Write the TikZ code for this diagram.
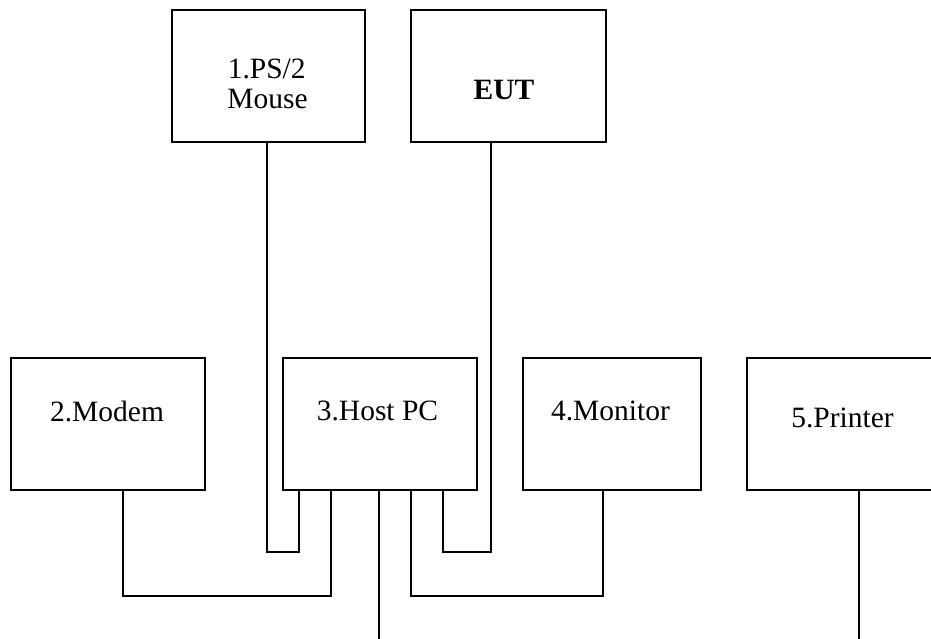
\documentclass[tikz,border=0pt]{standalone}
\usepackage{fontspec}
\setmainfont{Liberation Serif}
\begin{document}
\begin{tikzpicture}[x=1pt,y=-1pt,
  box/.style={draw, line width=1.4pt, minimum width=#1, minimum height=132pt, inner sep=0pt},
  lbl/.style={anchor=base, inner sep=0pt, font=\fontsize{29.5}{30}\selectfont},
  wire/.style={line width=1.4pt, line join=miter}]
\useasboundingbox (0,0) rectangle (931,638);
\fill[white] (0,0) rectangle (931,638);
\clip (0,0) rectangle (931,638);
% boxes
\node[box=193pt] (mouse) at (268.5,76) {};
\node[box=195pt] (eut) at (508.5,76) {};
\node[box=194pt] (modem) at (108,424) {};
\node[box=194pt] (host) at (380,424) {};
\node[box=178pt] (monitor) at (612,424) {};
\node[box=194pt] (printer) at (844,424) {};
% labels
\node[lbl] (mouseA) at (266.7,78) {1.PS/2};
\node[lbl] (mouseB) at (267.5,108) {Mouse};
\node[lbl, font=\fontsize{29.5}{30}\selectfont\bfseries] (eutT) at (504,99) {EUT};
\node[lbl] (modemT) at (107,421) {2.Modem};
\node[lbl] (hostT) at (377.5,420) {3.Host PC};
\node[lbl] (monitorT) at (610.5,420) {4.Monitor};
\node[lbl] (printerT) at (842.5,427) {5.Printer};
% bend points
\coordinate (mb1) at (267,552);
\coordinate (mb2) at (299,552);
\coordinate (eb1) at (491,552);
\coordinate (eb2) at (443,552);
\coordinate (db1) at (123,596);
\coordinate (db2) at (331,596);
\coordinate (nb1) at (603,596);
\coordinate (nb2) at (411,596);
\coordinate (hend) at (379,645);
\coordinate (pend) at (859,645);
% connectors
\draw[wire] (mouse.south -| mb1) -- (mb1) -- (mb2) -- (host.south -| mb2);
\draw[wire] (eut.south -| eb1) -- (eb1) -- (eb2) -- (host.south -| eb2);
\draw[wire] (modem.south -| db1) -- (db1) -- (db2) -- (host.south -| db2);
\draw[wire] (monitor.south -| nb1) -- (nb1) -- (nb2) -- (host.south -| nb2);
\draw[wire] (host.south -| hend) -- (hend);
\draw[wire] (printer.south -| pend) -- (pend);
\end{tikzpicture}
\end{document}
